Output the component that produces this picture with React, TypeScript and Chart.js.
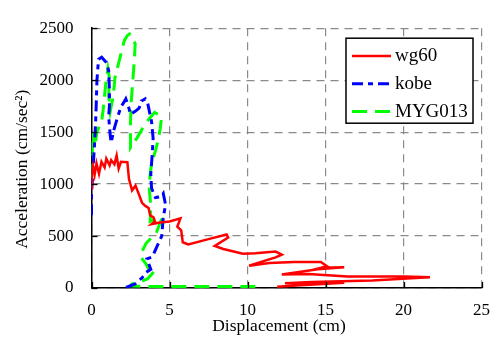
import React, { useEffect, useRef } from "react";
import { Chart, registerables } from "chart.js";

Chart.register(...registerables);

const FONT = "'Liberation Serif', 'Times New Roman', Times, serif";
Chart.defaults.font.family = FONT;

const seriesNames = ["wg60", "kobe", "MYG013"];

const wg60X = [0.0, 0.02, 0.1, 0.2, 0.32, 0.48, 0.64, 0.84, 0.95, 1.16, 1.26, 1.47, 1.61, 1.74, 1.89, 2.3, 2.4, 2.6, 2.82, 3.03, 3.24, 3.45, 3.66, 3.76, 3.97, 4.07, 3.86, 4.4, 5.0, 5.7, 5.5, 5.75, 5.85, 6.2, 7.5, 8.66, 8.76, 7.9, 8.45, 9.7, 10.5, 11.8, 12.2, 11.8, 10.1, 11.4, 13.0, 14.7, 15.1, 14.7, 16.2, 14.5, 12.2, 13.9, 16.4, 20.1, 21.7, 20.5, 18.0, 14.1, 12.4, 16.2, 13.4, 11.9];
const wg60Y = [960, 1100, 1170, 1090, 1200, 1100, 1215, 1160, 1245, 1180, 1230, 1190, 1275, 1150, 1215, 1210, 1050, 940, 985, 905, 820, 790, 770, 700, 680, 640, 615, 630, 640, 670, 590, 555, 440, 420, 470, 515, 485, 405, 375, 330, 335, 350, 320, 295, 215, 240, 250, 250, 210, 194, 200, 180, 130, 135, 110, 110, 103, 95, 73, 57, 45, 50, 27, 12];

const kobeX = [0.0, 0.0, 0.1, 0.2, 0.25, 0.3, 0.35, 0.45, 0.65, 0.95, 1.1, 1.15, 1.15, 1.1, 1.2, 1.26, 1.45, 1.68, 1.9, 2.2, 2.4, 2.5, 2.8, 3.05, 3.2, 3.45, 3.6, 3.85, 3.95, 3.9, 3.8, 3.85, 4.1, 4.45, 4.6, 4.75, 4.6, 4.5, 4.2, 3.9, 3.55, 3.8, 3.5, 3.25, 2.8, 2.2];
const kobeY = [700, 900, 1150, 1400, 1550, 1750, 2000, 2200, 2220, 2170, 2090, 1900, 1750, 1650, 1470, 1400, 1530, 1650, 1745, 1820, 1730, 1670, 1700, 1730, 1800, 1820, 1780, 1600, 1440, 1300, 1100, 960, 870, 880, 910, 800, 680, 500, 400, 300, 280, 180, 150, 100, 40, 5];

const mygX = [0.0, 0.05, 0.1, 0.2, 0.35, 0.5, 0.64, 0.75, 0.95, 1.05, 1.15, 1.1, 1.2, 1.4, 1.5, 1.7, 1.9, 2.1, 2.3, 2.45, 2.6, 2.8, 2.75, 2.65, 2.55, 2.5, 2.5, 2.9, 3.25, 3.65, 4.05, 4.5, 4.4, 4.3, 4.1, 3.85, 3.75, 3.7, 3.8, 3.76, 4.2, 4.5, 4.15, 3.95, 3.5, 3.3, 3.15, 3.5, 3.76, 4.05, 3.6, 3.0, 2.6, 2.5, 3.5, 6.0, 9.0, 11.0];
const mygY = [1050, 1300, 1500, 1350, 1500, 1560, 1590, 1720, 2020, 2110, 2020, 1850, 1700, 1850, 2020, 2140, 2260, 2380, 2430, 2445, 2420, 2350, 2200, 2000, 1800, 1600, 1350, 1440, 1530, 1620, 1690, 1650, 1530, 1440, 1320, 1200, 1080, 950, 800, 640, 670, 665, 530, 500, 430, 370, 300, 230, 150, 165, 90, 50, 40, 20, 15, 15, 15, 15];

const xMin = 0, xMax = 25, xStep = 5;
const yMin = 0, yMax = 2500, yStep = 500;
const xTitle = "Displacement (cm)";
const yTitle = "Acceleration (cm/sec\u00B2)";

const toPoints = (xs: number[], ys: number[]) => xs.map((x, i) => ({ x, y: ys[i] }));

const innerTicks = {
  id: "innerTicks",
  afterDatasetsDraw(chart: any) {
    const { ctx, chartArea, scales } = chart;
    ctx.save();
    ctx.strokeStyle = "#000";
    ctx.lineWidth = 1.3;
    ctx.setLineDash([]);
    scales.y.ticks.forEach((t: any) => {
      const py = Math.round(scales.y.getPixelForValue(t.value)) + 0.5;
      ctx.beginPath();
      ctx.moveTo(chartArea.left, py);
      ctx.lineTo(chartArea.left + 6, py);
      ctx.stroke();
    });
    scales.x.ticks.forEach((t: any) => {
      const px = Math.round(scales.x.getPixelForValue(t.value)) + 0.5;
      ctx.beginPath();
      ctx.moveTo(px, chartArea.bottom);
      ctx.lineTo(px, chartArea.bottom - 6);
      ctx.stroke();
    });
    ctx.restore();
  },
};

const axisTitles = {
  id: "axisTitles",
  afterDraw(chart: any) {
    const { ctx, chartArea } = chart;
    ctx.save();
    ctx.fillStyle = "#000";
    ctx.font = `17.5px ${FONT}`;
    ctx.textAlign = "center";
    ctx.textBaseline = "middle";
    ctx.fillText(xTitle, chartArea.left + 187.5, chartArea.bottom + 38);
    ctx.translate(22, chartArea.top + 141);
    ctx.rotate(-Math.PI / 2);
    ctx.fillText(yTitle, 0, 0);
    ctx.restore();
  },
};

const boxLegend = {
  id: "boxLegend",
  afterDraw(chart: any) {
    const { ctx, chartArea } = chart;
    const bx = chartArea.right - 135.5;
    const by = chartArea.top + 10;
    const w = 127;
    const h = 85;
    ctx.save();
    ctx.fillStyle = "#fff";
    ctx.fillRect(bx, by, w, h);
    ctx.strokeStyle = "#000";
    ctx.lineWidth = 1.5;
    ctx.setLineDash([]);
    ctx.strokeRect(bx, by, w, h);
    chart.data.datasets.forEach((ds: any, i: number) => {
      const y = by + 17.7 + i * 27.8;
      ctx.strokeStyle = ds.borderColor;
      ctx.lineWidth = ds.borderWidth;
      ctx.setLineDash(ds.borderDash || []);
      ctx.beginPath();
      ctx.moveTo(bx + 6, y);
      ctx.lineTo(bx + 45, y);
      ctx.stroke();
      ctx.setLineDash([]);
      ctx.fillStyle = "#000";
      ctx.font = `19px ${FONT}`;
      ctx.textAlign = "left";
      ctx.textBaseline = "alphabetic";
      ctx.fillText(ds.label, bx + 49, y + 5.5);
    });
    ctx.restore();
  },
};

export default function App() {
  const ref = useRef<HTMLCanvasElement | null>(null);
  useEffect(() => {
    if (!ref.current) return;
    const chart = new Chart(ref.current, {
      type: "scatter",
      data: {
        datasets: [
          {
            label: seriesNames[0],
            data: toPoints(wg60X, wg60Y),
            showLine: true,
            borderColor: "#ff0000",
            backgroundColor: "#ff0000",
            borderWidth: 2.5,
            pointRadius: 0,
            tension: 0,
          },
          {
            label: seriesNames[1],
            data: toPoints(kobeX, kobeY),
            showLine: true,
            borderColor: "#0000ff",
            backgroundColor: "#0000ff",
            borderWidth: 3,
            borderDash: [11, 5, 5, 5],
            pointRadius: 0,
            tension: 0,
          },
          {
            label: seriesNames[2],
            data: toPoints(mygX, mygY),
            showLine: true,
            borderColor: "#00ff00",
            backgroundColor: "#00ff00",
            borderWidth: 3,
            borderDash: [15, 8],
            pointRadius: 0,
            tension: 0,
          },
        ],
      },
      options: {
        responsive: false,
        animation: false,
        layout: { padding: { top: 14, right: 10, left: 0, bottom: 0 } },
        plugins: { legend: { display: false }, tooltip: { enabled: false } },
        scales: {
          x: {
            type: "linear",
            min: xMin,
            max: xMax,
            ticks: { stepSize: xStep, color: "#000", font: { family: FONT, size: 17 }, padding: 12, maxRotation: 0, callback: (v: any) => String(v) },
            grid: { color: "#8a8a8a", lineWidth: 1.2, drawTicks: false },
            border: { color: "#000", width: 1.5, dash: [8, 6] },
            title: { display: false },
            afterFit: (s: any) => { s.height = 64; },
          },
          y: {
            type: "linear",
            min: yMin,
            max: yMax,
            ticks: { stepSize: yStep, color: "#000", font: { family: FONT, size: 17 }, padding: 18, callback: (v: any) => String(v) },
            grid: { color: "#8a8a8a", lineWidth: 1.2, drawTicks: false },
            border: { color: "#000", width: 1.5, dash: [8, 6] },
            title: { display: false },
            afterFit: (s: any) => { s.width = 91.5; },
          },
        },
      },
      plugins: [innerTicks, axisTitles, boxLegend],
    } as any);
    return () => chart.destroy();
  }, []);
  return (
    <div style={{ position: "fixed", left: 0, top: 0, width: 502, height: 352, background: "#fff" }}>
      <canvas ref={ref} width={502} height={352} style={{ display: "block", width: 502, height: 352 }} />
    </div>
  );
}
